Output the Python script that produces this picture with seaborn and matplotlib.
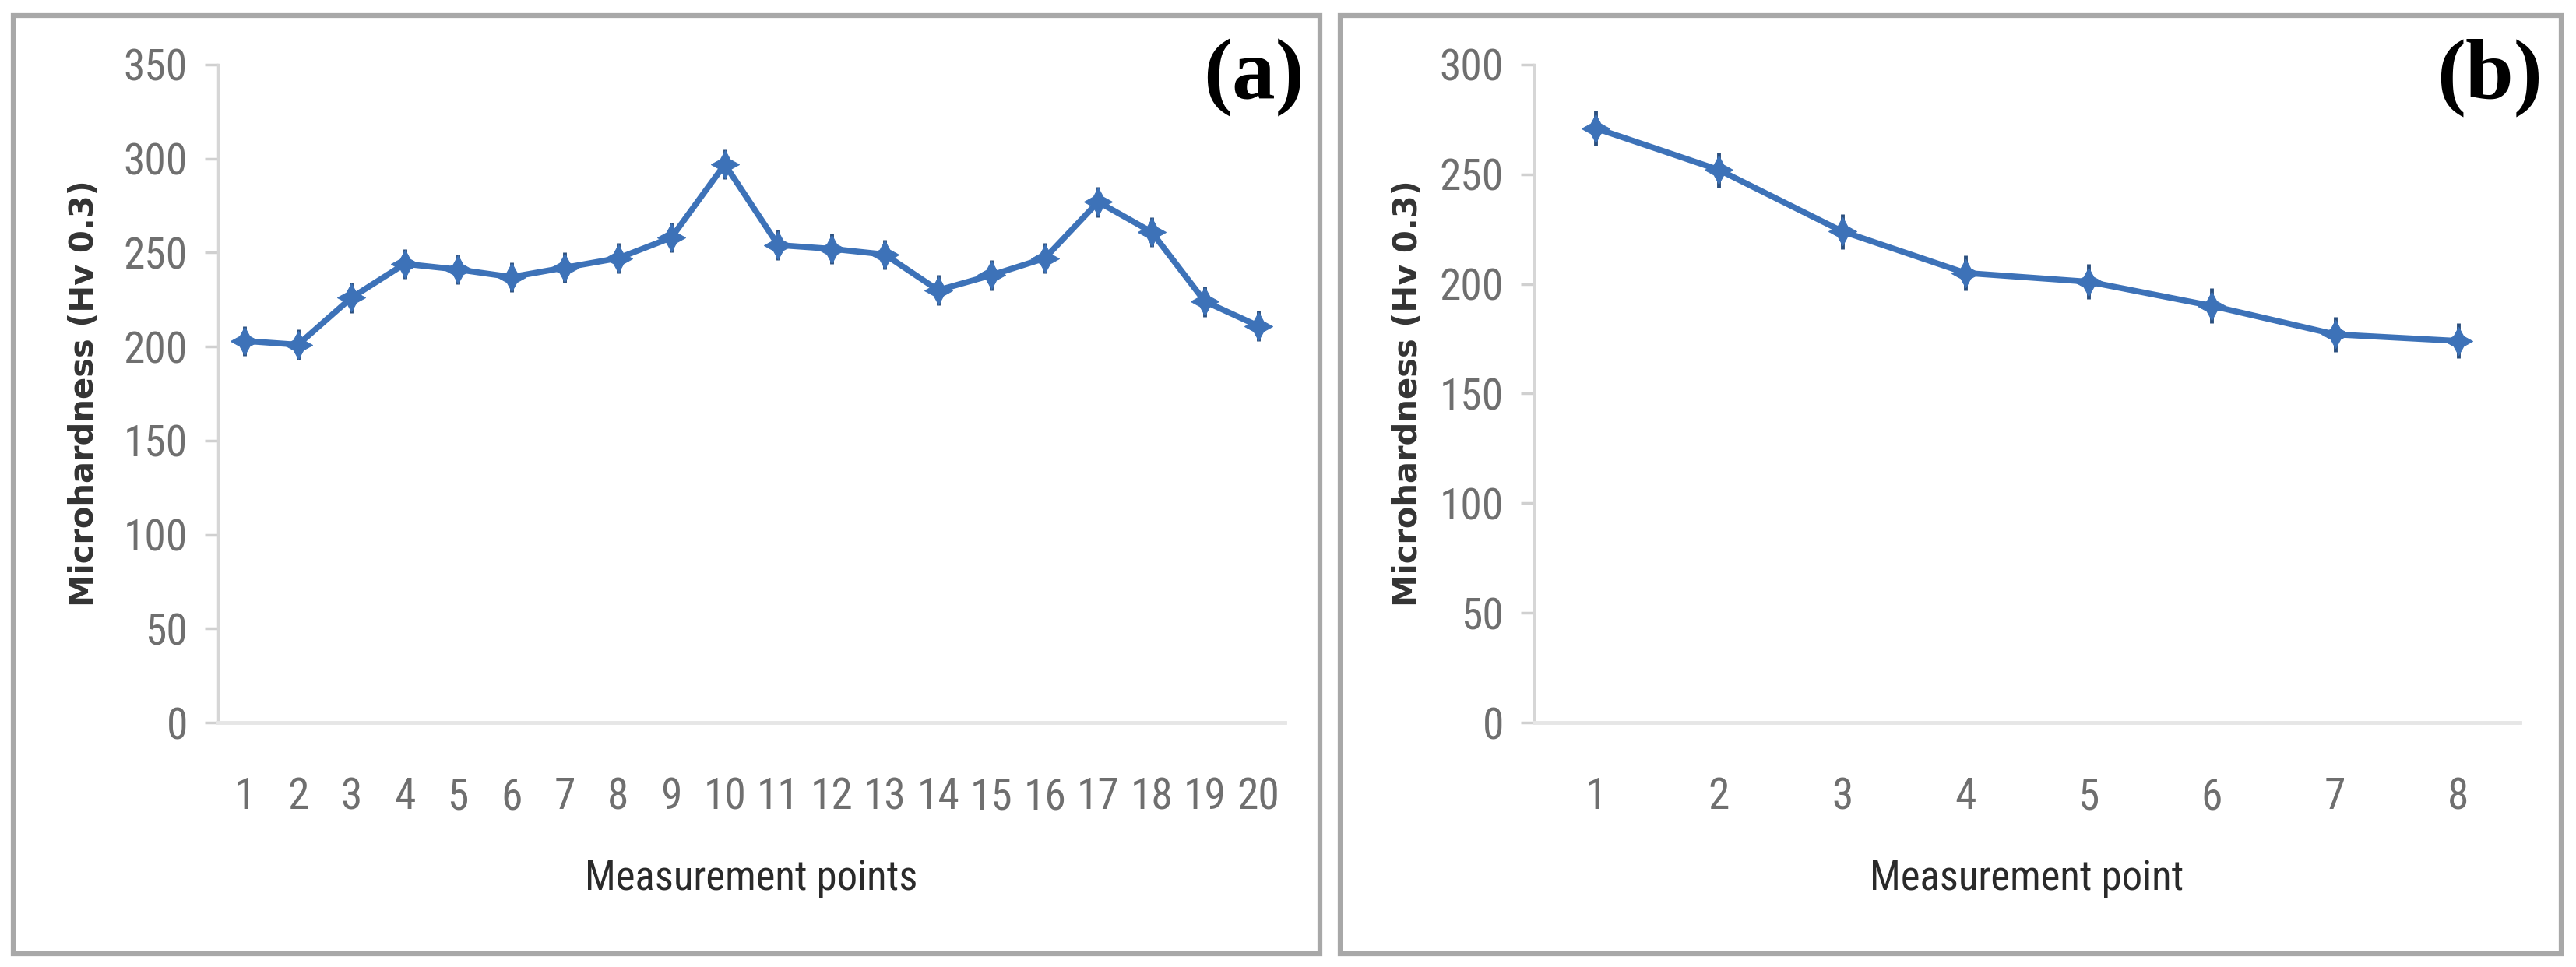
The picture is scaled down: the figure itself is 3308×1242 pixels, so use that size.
import matplotlib
matplotlib.use("Agg")
import matplotlib.pyplot as plt
import seaborn as sns
import pandas as pd
from matplotlib import font_manager
from matplotlib.patches import Rectangle

# data
points_a = list(range(1, 21))
hardness_a = [203, 201, 226, 244, 241, 237, 242, 247, 258, 297,
              254, 252, 249, 230, 238, 247, 277, 261, 224, 211]
err_a = [8] * 20

points_b = list(range(1, 9))
hardness_b = [271, 252, 224, 205, 201, 190, 177, 174]
err_b = [8] * 8

yticks_a = [0, 50, 100, 150, 200, 250, 300, 350]
yticks_b = [0, 50, 100, 150, 200, 250, 300]

sns.set_style("white")

# pick a narrow face if one is installed
installed = {f.name for f in font_manager.fontManager.ttflist}
narrow = None
for name in ["Liberation Sans Narrow", "Roboto Condensed", "DejaVu Sans Condensed",
             "Open Sans Condensed", "Noto Sans Condensed"]:
    if name in installed:
        narrow = name
        break
if narrow is None:
    narrow = "Liberation Sans"
    tick_size, xlab_size = 31, 30
else:
    tick_size, xlab_size = 40, 38

line_col = "#3d72b8"
tick_col = "#6f6f6f"

fig = plt.figure(figsize=(33.08, 12.42), dpi=100)
W, H = 3308, 1242


def px_ax(l, r, t, b):
    return fig.add_axes([l / W, 1 - b / H, (r - l) / W, (b - t) / H])


def draw_panel(ax, x, y, err, yticks, xlabel, tag, tag_x, ylab_x):
    df = pd.DataFrame({"point": x, "hv": y})
    ax.errorbar(x, y, yerr=err, fmt="none", ecolor="#2b4f7e", elinewidth=3.5, zorder=2)
    sns.lineplot(data=df, x="point", y="hv", ax=ax, color=line_col, linewidth=5.5,
                 marker=(4, 1, 0), markersize=26, markeredgecolor=line_col,
                 markerfacecolor=line_col, zorder=3)
    ax.set_xlim(0.5, len(x) + 0.5)
    ax.set_ylim(yticks[0], yticks[-1])
    ax.set_xticks(x)
    ax.set_yticks(yticks)
    ax.set_xlabel("")
    ax.set_ylabel("")
    for s in ["top", "right"]:
        ax.spines[s].set_visible(False)
    ax.spines["left"].set_color("#d6d6d6")
    ax.spines["left"].set_linewidth(2.5)
    ax.spines["bottom"].set_color("#e6e6e6")
    ax.spines["bottom"].set_linewidth(3.5)
    ax.tick_params(axis="y", direction="out", length=12, width=2.5, color="#d0d0d0",
                   pad=16, labelsize=tick_size, labelcolor=tick_col, left=True)
    ax.tick_params(axis="x", length=0, pad=50, labelsize=tick_size, labelcolor=tick_col)
    for lab in ax.get_xticklabels() + ax.get_yticklabels():
        lab.set_family(narrow)
    bb = ax.get_position()
    fig.text((bb.x0 + bb.x1) / 2, 1 - 1128 / H, xlabel, ha="center", va="center",
             fontsize=xlab_size, color="#2a2a2a", family=narrow)
    fig.text(ylab_x / W, (bb.y0 + bb.y1) / 2, "Microhardness (Hv 0.3)", rotation=90,
             ha="center", va="center", fontsize=30, fontweight="bold", color="#333333")
    fig.text(tag_x / W, 1 - 100 / H, tag, ha="center", va="center", fontsize=80,
             fontweight="bold", family="Liberation Serif", color="black")


# panel frames
fig.patches.append(Rectangle((17 / W, 1 - 1225 / H), (1695 - 17) / W, (1225 - 20) / H,
                             transform=fig.transFigure, fill=False,
                             edgecolor="#a8a8a8", linewidth=4.5))
fig.patches.append(Rectangle((1721 / W, 1 - 1225 / H), (3289 - 1721) / W, (1225 - 20) / H,
                             transform=fig.transFigure, fill=False,
                             edgecolor="#a8a8a8", linewidth=4.5))

ax1 = px_ax(280, 1650, 83, 928)
draw_panel(ax1, points_a, hardness_a, err_a, yticks_a, "Measurement points", "(a)", 1610, 108)

ax2 = px_ax(1970, 3236, 83, 928)
draw_panel(ax2, points_b, hardness_b, err_b, yticks_b, "Measurement point", "(b)", 3197, 1808)

fig.savefig("out.png", dpi=100, facecolor="white")
